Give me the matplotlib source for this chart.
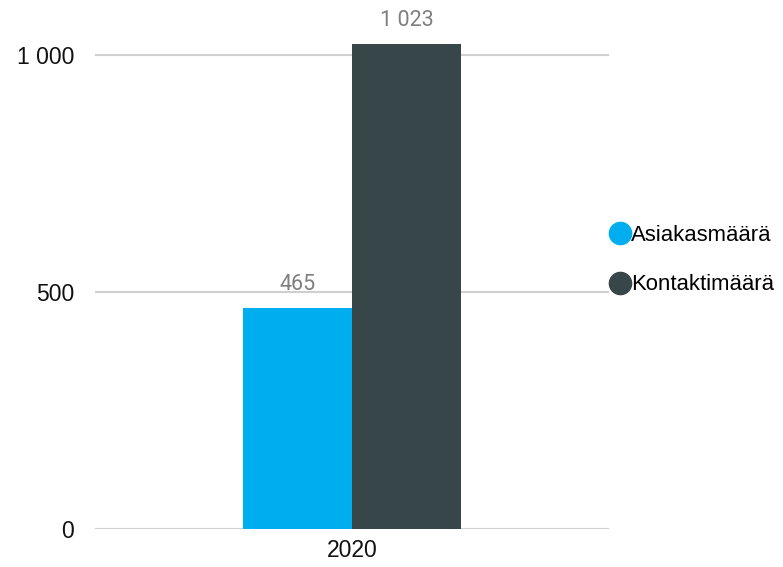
import matplotlib
matplotlib.use("Agg")
import matplotlib.pyplot as plt
from matplotlib.lines import Line2D

categories = ["2020"]
series_names = ["Asiakasmäärä", "Kontaktimäärä"]
asiakas = [465]
kontakti = [1023]
colors = ["#00AEEF", "#374649"]
yticks = [0, 500, 1000]
ytick_labels = ["0", "500", "1 000"]

def fmt(v):
    return f"{v:,}".replace(",", " ")

fig = plt.figure(figsize=(7.83, 5.67), dpi=100)
ax = fig.add_axes([95/783, 38/567, 514/783, (529-31)/567])

bw = 0.212
x = list(range(len(categories)))
b1 = ax.bar([i - bw/2 for i in x], asiakas, width=bw, color=colors[0], zorder=3)
b2 = ax.bar([i + bw/2 for i in x], kontakti, width=bw, color=colors[1], zorder=3)

for bars, vals in ((b1, asiakas), (b2, kontakti)):
    for r, v in zip(bars, vals):
        ax.annotate(fmt(v), (r.get_x() + r.get_width()/2, v), xytext=(0, 17),
                    textcoords="offset points", ha="center", va="center",
                    fontsize=15.5, color="#7f7f7f", family="Roboto")

ax.set_xlim(-0.5, 0.5)
ax.set_ylim(0, 1050)
ax.set_xticks(x)
ax.set_xticklabels(categories, fontsize=16.5, family="Liberation Sans", color="#111111")
ax.set_yticks(yticks)
ax.set_yticklabels(ytick_labels, fontsize=16.5, family="Liberation Sans", color="#111111")
ax.tick_params(axis="both", length=0)
ax.tick_params(axis="y", pad=15)
ax.tick_params(axis="x", pad=7)
ax.grid(axis="y", color="#d0d0d0", linewidth=1.5, zorder=0)
for s in ax.spines.values():
    s.set_visible(False)

handles = [Line2D([0], [0], marker="o", linestyle="", markersize=16,
                  markerfacecolor=c, markeredgecolor=c) for c in colors]
fig.legend(handles, series_names, loc="center left", bbox_to_anchor=(591/783, 1 - 260/567),
           frameon=False, handletextpad=0.0, labelspacing=1.3, handlelength=1.0,
           borderpad=0.3, prop={"family": "Liberation Sans", "size": 15.9})

fig.savefig("out.png", dpi=100)
